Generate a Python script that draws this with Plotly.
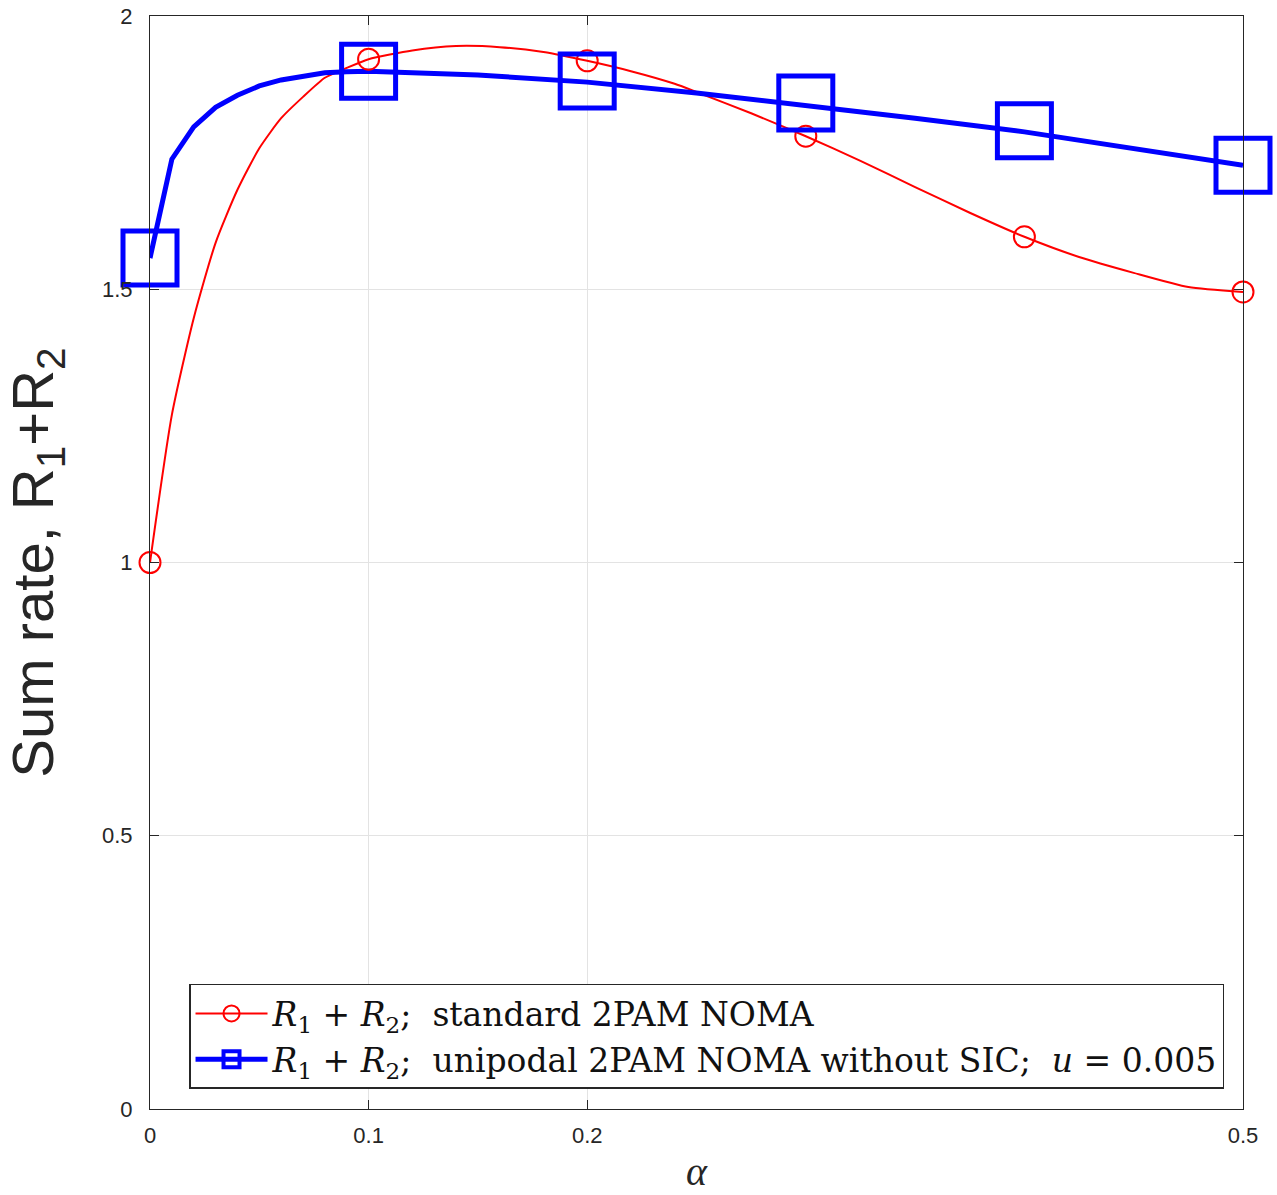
import plotly.graph_objects as go

# alpha values (x) and sum-rate values
alpha_red = [0.0, 0.01, 0.02, 0.03, 0.04, 0.05, 0.06, 0.07, 0.08, 0.09, 0.10,
             0.12, 0.14, 0.16, 0.18, 0.20, 0.22, 0.24, 0.25, 0.275, 0.30,
             0.325, 0.35, 0.375, 0.40, 0.425, 0.45, 0.475, 0.50]
rate_red = [1.000, 1.270, 1.447, 1.585, 1.682, 1.758, 1.813, 1.852, 1.887, 1.905, 1.921,
            1.937, 1.945, 1.943, 1.934, 1.918, 1.899, 1.876, 1.861, 1.822, 1.780,
            1.735, 1.687, 1.640, 1.596, 1.559, 1.530, 1.504, 1.495]

alpha_blue = [0.0, 0.01, 0.02, 0.03, 0.04, 0.05, 0.06, 0.07, 0.08, 0.09, 0.10,
              0.15, 0.20, 0.25, 0.30, 0.35, 0.40, 0.45, 0.50]
rate_blue = [1.557, 1.738, 1.797, 1.833, 1.855, 1.872, 1.883, 1.890, 1.896, 1.898, 1.899,
             1.892, 1.879, 1.859, 1.837, 1.813, 1.788, 1.758, 1.727]

marker_alpha = [0.0, 0.1, 0.2, 0.3, 0.4, 0.5]
marker_red = [1.000, 1.921, 1.918, 1.780, 1.596, 1.495]
marker_blue = [1.557, 1.899, 1.881, 1.841, 1.790, 1.727]

x_tickvals = [0, 0.1, 0.2, 0.5]
x_ticktext = ["0", "0.1", "0.2", "0.5"]
y_tickvals = [0, 0.5, 1, 1.5, 2]
y_ticktext = ["0", "0.5", "1", "1.5", "2"]

x_label = "<i>α</i>"
y_label = "Sum rate, R<sub>1</sub>+R<sub>2</sub>"
label_red = ("<i>R</i><sub>1</sub>&nbsp;+&nbsp;<i>R</i><sub>2</sub>;&nbsp; standard 2PAM NOMA")
label_blue = ("<i>R</i><sub>1</sub>&nbsp;+&nbsp;<i>R</i><sub>2</sub>;&nbsp; unipodal 2PAM NOMA "
              "without SIC;&nbsp; <i>u</i>&nbsp;=&nbsp;0.005")

RED = "#ff0000"
BLUE = "#0000ff"

fig = go.Figure()

# lines
fig.add_trace(go.Scatter(x=alpha_red, y=rate_red, mode="lines",
                         line=dict(color=RED, width=2, shape="spline", smoothing=0.6),
                         showlegend=False, hoverinfo="skip"))
fig.add_trace(go.Scatter(x=alpha_blue, y=rate_blue, mode="lines",
                         line=dict(color=BLUE, width=5),
                         showlegend=False, hoverinfo="skip"))
# markers
fig.add_trace(go.Scatter(x=marker_alpha, y=marker_red, mode="markers",
                         marker=dict(symbol="circle-open", size=21, color=RED,
                                     line=dict(width=2, color=RED)),
                         showlegend=False, cliponaxis=False))
fig.add_trace(go.Scatter(x=marker_alpha, y=marker_blue, mode="markers",
                         marker=dict(symbol="square-open", size=54, color=BLUE,
                                     line=dict(width=5, color=BLUE)),
                         showlegend=False, cliponaxis=False))
# legend entries
fig.add_trace(go.Scatter(x=[None], y=[None], mode="lines+markers", name=label_red,
                         line=dict(color=RED, width=2),
                         marker=dict(symbol="circle-open", size=16, color=RED,
                                     line=dict(width=2, color=RED))))
fig.add_trace(go.Scatter(x=[None], y=[None], mode="lines+markers", name=label_blue,
                         line=dict(color=BLUE, width=5),
                         marker=dict(symbol="square-open", size=16, color=BLUE,
                                     line=dict(width=4, color=BLUE))))

axis_common = dict(
    showline=True, linecolor="#262626", linewidth=1.2, mirror="ticks",
    ticks="inside", ticklen=9, tickcolor="#262626", tickwidth=1,
    showgrid=True, gridcolor="#e3e3e3", gridwidth=1, zeroline=False,
    ticklabeloverflow="allow",
    tickfont=dict(family="Liberation Sans, Arial", size=22, color="#262626"),
)

fig.update_layout(
    width=1277, height=1195,
    margin=dict(l=150, r=34, t=16, b=86),
    paper_bgcolor="white", plot_bgcolor="white",
    xaxis=dict(range=[0, 0.5], tickvals=x_tickvals, ticktext=x_ticktext,
               ticklabelstandoff=6, automargin=False,
               **axis_common),
    yaxis=dict(range=[0, 2], tickvals=y_tickvals, ticktext=y_ticktext,
               ticklabelstandoff=12, automargin="left",
               title=dict(text=y_label,
                          font=dict(family="Liberation Sans, Arial", size=58, color="#262626"),
                          standoff=46),
               **axis_common),
    legend=dict(x=0.0357, y=0.0183, xanchor="left", yanchor="bottom",
                bgcolor="white", bordercolor="#262626", borderwidth=1.5,
                font=dict(family="DejaVu Serif", size=33, color="#111111"),
                tracegroupgap=0, itemwidth=72),
)

# x-axis label placed below the tick labels
fig.add_annotation(text=x_label, xref="paper", yref="paper", x=0.5, y=-0.0576,
                   xanchor="center", yanchor="middle", showarrow=False,
                   font=dict(family="Liberation Serif", size=40, color="#262626"))

fig.write_html("out.html", config={"displayModeBar": False},
               post_script="document.body.style.margin='0';")
